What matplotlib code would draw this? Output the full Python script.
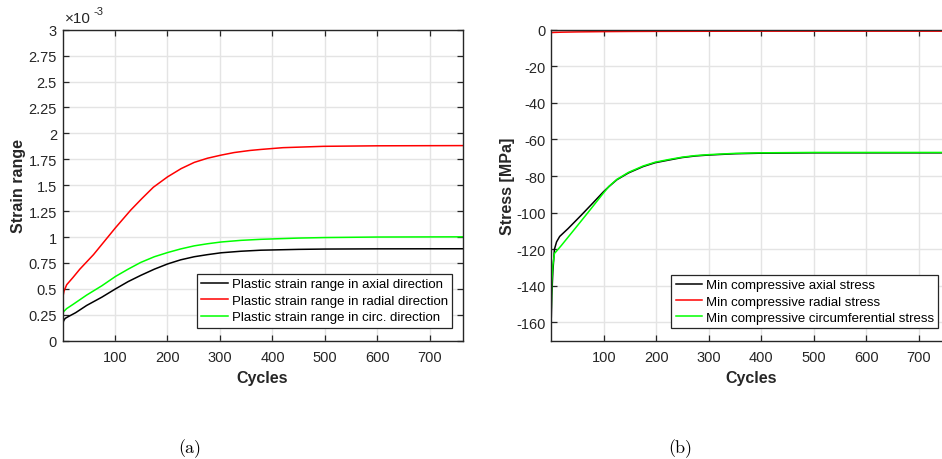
import matplotlib
matplotlib.use("Agg")
import matplotlib.pyplot as plt

plt.rcParams["font.family"] = ["Liberation Sans", "DejaVu Sans"]
plt.rcParams["axes.unicode_minus"] = False

# ---- (a) plastic strain range, values in units of 1e-3 ----
cyc_ax = [0, 2, 5, 12, 25, 46, 75, 101, 125, 149, 175, 200, 225, 251, 276, 302, 340, 378, 450, 500, 600, 762]
strain_axial = [0.14, 0.19, 0.215, 0.235, 0.27, 0.34, 0.42, 0.50, 0.57, 0.63, 0.69, 0.74, 0.78, 0.81,
                0.83, 0.848, 0.863, 0.873, 0.881, 0.884, 0.886, 0.887]

cyc_rad = [0, 1, 3, 8, 20, 33, 59, 80, 101, 130, 151, 173, 200, 226, 251, 276, 302, 327, 357, 378, 420, 497, 600, 762]
strain_radial = [0.38, 0.43, 0.48, 0.54, 0.61, 0.69, 0.83, 0.96, 1.09, 1.26, 1.37, 1.48, 1.58, 1.66, 1.72,
                 1.76, 1.79, 1.815, 1.835, 1.845, 1.862, 1.875, 1.88, 1.882]

cyc_circ = [0, 2, 8, 20, 46, 75, 101, 125, 149, 175, 200, 225, 251, 276, 302, 340, 378, 450, 500, 600, 762]
strain_circ = [0.25, 0.28, 0.31, 0.35, 0.44, 0.53, 0.62, 0.69, 0.755, 0.81, 0.85, 0.885, 0.915, 0.935, 0.952,
               0.968, 0.978, 0.99, 0.995, 1.0, 1.002]

strain_labels = ["Plastic strain range in axial direction",
                 "Plastic strain range in radial direction",
                 "Plastic strain range in circ. direction"]

# ---- (b) minimum compressive stress [MPa] ----
cyc_s_ax = [0, 1, 3, 6, 10, 16, 32, 57, 80, 99, 110, 125, 147, 175, 198, 225, 249, 275, 300, 350, 400, 500, 762]
stress_axial = [-157, -145, -132, -120, -116, -113, -108.7, -101.4, -94.5, -88.7, -85.7, -82.0, -78.3, -74.8,
                -72.7, -71.2, -69.9, -69.0, -68.5, -67.8, -67.5, -67.3, -67.3]

cyc_s_rad = [0, 5, 20, 50, 100, 150, 200, 300, 400, 762]
stress_radial = [-1.6, -1.5, -1.35, -1.2, -1.05, -0.95, -0.9, -0.85, -0.8, -0.8]

cyc_s_circ = [0, 1, 3, 6, 10, 19, 45, 70, 99, 110, 125, 147, 175, 198, 225, 249, 275, 300, 350, 400, 500, 762]
stress_circ = [-152, -138, -128.7, -122.3, -121, -118, -108.8, -99.9, -89.4, -85.6, -81.8, -78.0, -74.5,
               -72.4, -70.9, -69.7, -68.8, -68.3, -67.6, -67.3, -67.1, -67.1]

stress_labels = ["Min compressive axial stress",
                 "Min compressive radial stress",
                 "Min compressive circumferential stress"]

x_ticks = [100, 200, 300, 400, 500, 600, 700]
strain_ticks = [0, 0.25, 0.5, 0.75, 1, 1.25, 1.5, 1.75, 2, 2.25, 2.5, 2.75, 3]
stress_ticks = [-160, -140, -120, -100, -80, -60, -40, -20, 0]

W, H = 942, 460
fig = plt.figure(figsize=(W / 100, H / 100), dpi=100)

ax_w = 400 / W
ax_b = (H - 341.7) / H
ax_h = 311 / H
ax1 = fig.add_axes([62.5 / W, ax_b, ax_w, ax_h])
ax2 = fig.add_axes([551.3 / W, ax_b, ax_w, ax_h])

dark = "#262626"
lw = 1.1
colors = ["black", "#ff0000", "#00ff00"]


def style(ax):
    ax.grid(True, color="#e4e4e4", linewidth=1.0)
    ax.set_axisbelow(True)
    for s in ax.spines.values():
        s.set_color(dark)
        s.set_linewidth(1.0)
    ax.tick_params(direction="in", length=4, width=0.9, color=dark, labelcolor=dark,
                   labelsize=10.5, top=True, right=True)
    ax.tick_params(axis="x", pad=6.5)
    ax.tick_params(axis="y", pad=4)
    ax.set_xlim(0, 762)
    ax.set_xticks(x_ticks)
    ax.set_xlabel("Cycles", fontsize=11.5, fontweight="bold", color=dark)
    ax.xaxis.set_label_coords(0.5, -0.094)


def legend(ax, anchor):
    leg = ax.legend(loc="lower right", bbox_to_anchor=anchor, borderaxespad=0,
                    fontsize=9.5, frameon=True, fancybox=False, framealpha=1,
                    handlelength=2.0, handletextpad=0.3, labelspacing=0.32,
                    borderpad=0.32)
    leg.get_frame().set_edgecolor(dark)
    leg.get_frame().set_linewidth(0.9)


# (a)
ax1.plot(cyc_ax, strain_axial, color=colors[0], lw=lw, label=strain_labels[0])
ax1.plot(cyc_rad, strain_radial, color=colors[1], lw=lw, label=strain_labels[1])
ax1.plot(cyc_circ, strain_circ, color=colors[2], lw=lw, label=strain_labels[2])
style(ax1)
ax1.set_ylim(0, 3)
ax1.set_yticks(strain_ticks)
ax1.set_yticklabels([f"{t:g}" for t in strain_ticks])
ax1.set_ylabel("Strain range", fontsize=11.5, fontweight="bold", color=dark)
ax1.yaxis.set_label_coords(-0.09, 0.5)
ax1.text(0.005, 1.016, "\u00d710", transform=ax1.transAxes, fontsize=11, color=dark,
         ha="left", va="bottom")
ax1.text(0.077, 1.045, "-3", transform=ax1.transAxes, fontsize=8, color=dark,
         ha="left", va="bottom")
legend(ax1, (0.974, 0.042))

# (b)
ax2.plot(cyc_s_ax, stress_axial, color=colors[0], lw=lw, label=stress_labels[0])
ax2.plot(cyc_s_rad, stress_radial, color=colors[1], lw=lw, label=stress_labels[1])
ax2.plot(cyc_s_circ, stress_circ, color=colors[2], lw=lw, label=stress_labels[2])
style(ax2)
ax2.set_ylim(-170, 0)
ax2.set_yticks(stress_ticks)
ax2.set_yticklabels([f"{t:g}" for t in stress_ticks])
ax2.set_ylabel("Stress [MPa]", fontsize=11.5, fontweight="bold", color=dark)
ax2.yaxis.set_label_coords(-0.09, 0.5)
legend(ax2, (0.9675, 0.04))

# sub-captions
fig.text(190 / W, 1 - 449 / H, "(a)", family="cmr10", fontsize=13, ha="center", va="center")
fig.text(680 / W, 1 - 449 / H, "(b)", family="cmr10", fontsize=13, ha="center", va="center")

fig.savefig("out.png", dpi=100)
